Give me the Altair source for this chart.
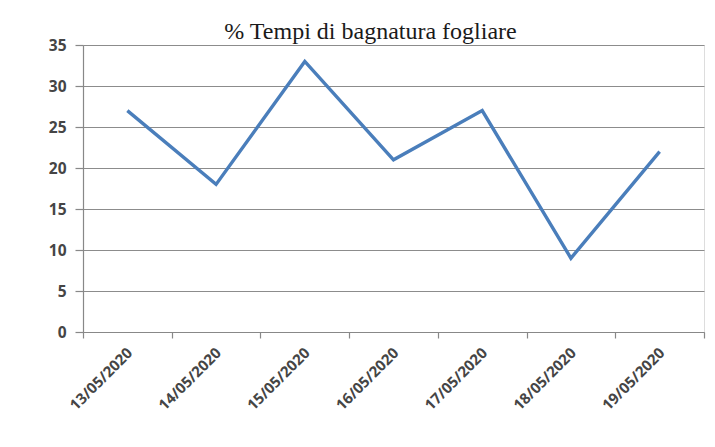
import altair as alt
import pandas as pd

dates = ["13/05/2020", "14/05/2020", "15/05/2020", "16/05/2020",
         "17/05/2020", "18/05/2020", "19/05/2020"]
values = [27, 18, 33, 21, 27, 9, 22]
y_ticks = [0, 5, 10, 15, 20, 25, 30, 35]

df = pd.DataFrame({"data": dates, "valore": values})

W, H = 621, 287

line = alt.Chart(df).mark_line(color="#4a7ebb", strokeWidth=3.4).encode(
    x=alt.X("data:N", sort=dates, title=None,
            scale=alt.Scale(paddingInner=0, paddingOuter=0),
            axis=alt.Axis(labelAngle=-45, labelAlign="right", labelBaseline="middle",
                          labelFont="Open Sans", labelFontSize=15, labelFontWeight="bold",
                          labelColor="#454545", labelPadding=12, labelOffset=2,
                          tickBand="extent", tickColor="#888888", tickSize=6,
                          domainColor="#888888", domainWidth=1.2, tickWidth=1.2,
                          grid=False)),
    y=alt.Y("valore:Q", title=None,
            scale=alt.Scale(domain=[0, 35], nice=False),
            axis=alt.Axis(values=y_ticks, labelFont="Open Sans", labelFontSize=15.5,
                          labelFontWeight="bold", labelColor="#454545", labelPadding=9,
                          tickColor="#888888", tickSize=8, tickWidth=1.2,
                          domainColor="#888888", domainWidth=1.2,
                          gridColor="#8c8c8c", gridWidth=1.2)),
)

chart = line.properties(
    width=W, height=H,
    title=alt.TitleParams("% Tempi di bagnatura fogliare", font="Liberation Serif",
                          fontSize=24, fontWeight="normal", color="#1a1a1a",
                          anchor="middle", dx=-23, offset=-6),
    autosize=alt.AutoSizeParams(type="none"),
    padding={"left": 75, "top": 37, "right": 3, "bottom": 100},
).configure_view(stroke=None).configure(background="white")

chart.save("out.html", embed_options={"renderer": "svg", "actions": False})
